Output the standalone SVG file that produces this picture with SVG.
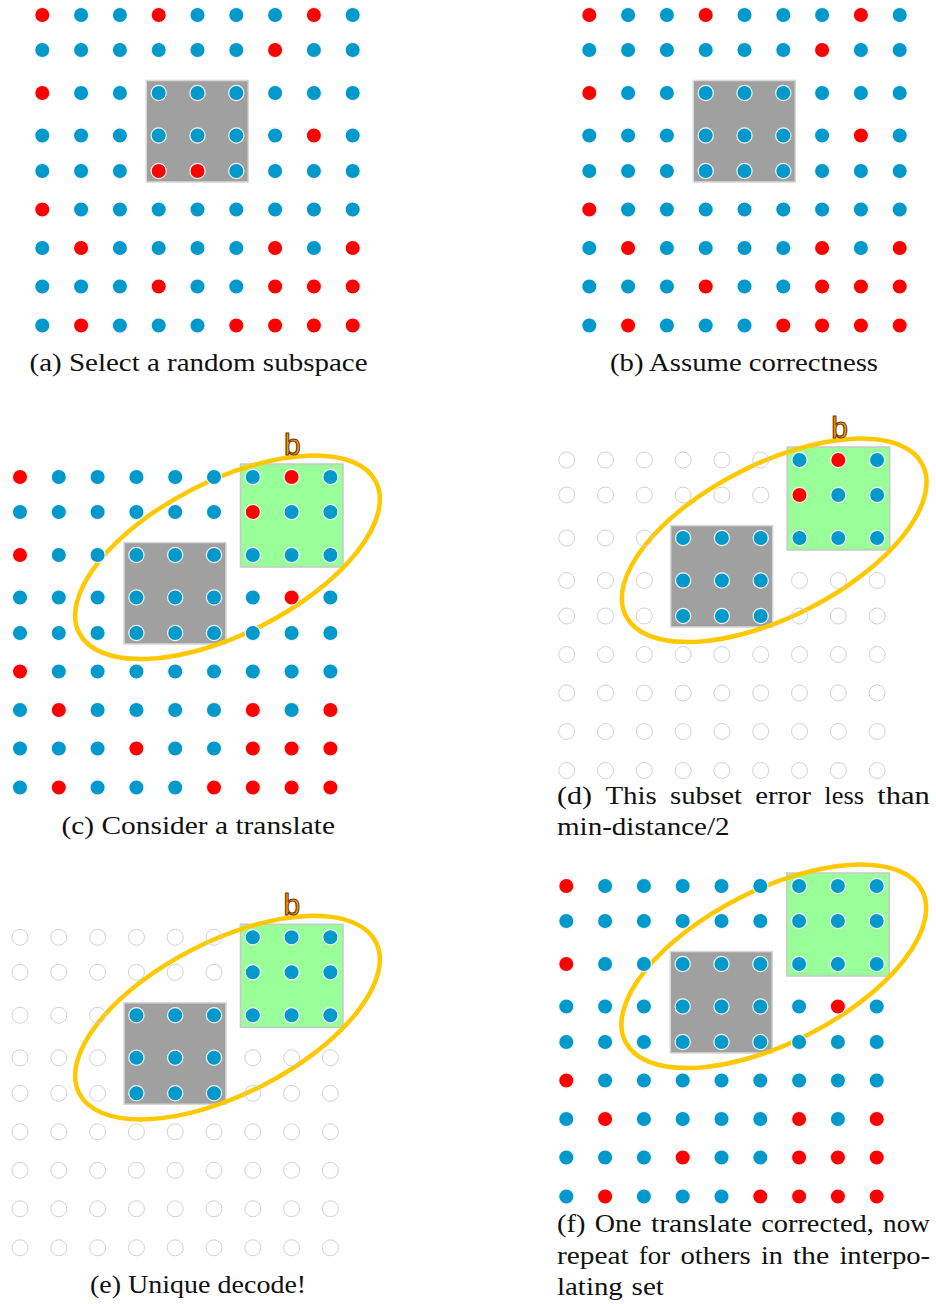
<svg xmlns="http://www.w3.org/2000/svg" xmlns:xlink="http://www.w3.org/1999/xlink" width="936" height="1304" viewBox="0 0 936 1304">
<style>
.gbox{fill:#a0a0a0;stroke:#d8d8d8;stroke-width:1.5}
.grn{fill:#99ff99;stroke:#c8c8c8;stroke-width:1.5}
.ell{fill:none;stroke:#ffc800;stroke-width:4.5}
.lbl{font-family:"Liberation Sans",Arial,sans-serif;font-size:30px;fill:#ff9900;stroke:#6b3a00;stroke-width:1.1}
.cap{font-family:"Liberation Serif","Times New Roman",serif;font-size:25px;fill:#111}
</style>
<defs>
<circle id="R" r="7.6" fill="#ff0000" stroke="#f4f4f4" stroke-width="1.2"/>
<circle id="B" r="7.6" fill="#0099cc" stroke="#f4f4f4" stroke-width="1.2"/>
<circle id="O" r="8" fill="none" stroke="#d2d2d2" stroke-width="1"/>
</defs>

<g id="panel-a">
<g transform="translate(42.3,15)">
<rect class="gbox" x="104" y="65.5" width="102" height="101.5"/>
<g id="dots-a">
<g><use href="#R"/><use href="#B" x="38.8"/><use href="#B" x="77.6"/><use href="#R" x="116.4"/><use href="#B" x="155.2"/><use href="#B" x="194"/><use href="#B" x="232.8"/><use href="#R" x="271.6"/><use href="#B" x="310.4"/></g>
<g transform="translate(0,35)"><use href="#B"/><use href="#B" x="38.8"/><use href="#B" x="77.6"/><use href="#B" x="116.4"/><use href="#B" x="155.2"/><use href="#B" x="194"/><use href="#R" x="232.8"/><use href="#B" x="271.6"/><use href="#B" x="310.4"/></g>
<g transform="translate(0,78)"><use href="#R"/><use href="#B" x="38.8"/><use href="#B" x="77.6"/><use href="#B" x="116.4"/><use href="#B" x="155.2"/><use href="#B" x="194"/><use href="#B" x="232.8"/><use href="#B" x="271.6"/><use href="#B" x="310.4"/></g>
<g transform="translate(0,120.5)"><use href="#B"/><use href="#B" x="38.8"/><use href="#B" x="77.6"/><use href="#B" x="116.4"/><use href="#B" x="155.2"/><use href="#B" x="194"/><use href="#B" x="232.8"/><use href="#R" x="271.6"/><use href="#B" x="310.4"/></g>
<g transform="translate(0,156)"><use href="#B"/><use href="#B" x="38.8"/><use href="#B" x="77.6"/><use href="#R" x="116.4"/><use href="#R" x="155.2"/><use href="#B" x="194"/><use href="#B" x="232.8"/><use href="#B" x="271.6"/><use href="#B" x="310.4"/></g>
<g transform="translate(0,194.5)"><use href="#R"/><use href="#B" x="38.8"/><use href="#B" x="77.6"/><use href="#B" x="116.4"/><use href="#B" x="155.2"/><use href="#B" x="194"/><use href="#B" x="232.8"/><use href="#B" x="271.6"/><use href="#B" x="310.4"/></g>
<g transform="translate(0,233)"><use href="#B"/><use href="#R" x="38.8"/><use href="#B" x="77.6"/><use href="#B" x="116.4"/><use href="#B" x="155.2"/><use href="#B" x="194"/><use href="#R" x="232.8"/><use href="#B" x="271.6"/><use href="#R" x="310.4"/></g>
<g transform="translate(0,271.5)"><use href="#B"/><use href="#B" x="38.8"/><use href="#B" x="77.6"/><use href="#R" x="116.4"/><use href="#B" x="155.2"/><use href="#B" x="194"/><use href="#R" x="232.8"/><use href="#R" x="271.6"/><use href="#R" x="310.4"/></g>
<g transform="translate(0,310.5)"><use href="#B"/><use href="#R" x="38.8"/><use href="#B" x="77.6"/><use href="#B" x="116.4"/><use href="#B" x="155.2"/><use href="#R" x="194"/><use href="#R" x="232.8"/><use href="#R" x="271.6"/><use href="#R" x="310.4"/></g>
</g>
</g>
<text class="cap" x="29.5" y="371" textLength="338" lengthAdjust="spacingAndGlyphs">(a) Select a random subspace</text>
</g>

<g id="panel-b">
<g transform="translate(589.3,15)">
<rect class="gbox" x="104" y="65.5" width="102" height="101.5"/>
<g id="dots-b">
<g><use href="#R"/><use href="#B" x="38.8"/><use href="#B" x="77.6"/><use href="#R" x="116.4"/><use href="#B" x="155.2"/><use href="#B" x="194"/><use href="#B" x="232.8"/><use href="#R" x="271.6"/><use href="#B" x="310.4"/></g>
<g transform="translate(0,35)"><use href="#B"/><use href="#B" x="38.8"/><use href="#B" x="77.6"/><use href="#B" x="116.4"/><use href="#B" x="155.2"/><use href="#B" x="194"/><use href="#R" x="232.8"/><use href="#B" x="271.6"/><use href="#B" x="310.4"/></g>
<g transform="translate(0,78)"><use href="#R"/><use href="#B" x="38.8"/><use href="#B" x="77.6"/><use href="#B" x="116.4"/><use href="#B" x="155.2"/><use href="#B" x="194"/><use href="#B" x="232.8"/><use href="#B" x="271.6"/><use href="#B" x="310.4"/></g>
<g transform="translate(0,120.5)"><use href="#B"/><use href="#B" x="38.8"/><use href="#B" x="77.6"/><use href="#B" x="116.4"/><use href="#B" x="155.2"/><use href="#B" x="194"/><use href="#B" x="232.8"/><use href="#R" x="271.6"/><use href="#B" x="310.4"/></g>
<g transform="translate(0,156)"><use href="#B"/><use href="#B" x="38.8"/><use href="#B" x="77.6"/><use href="#B" x="116.4"/><use href="#B" x="155.2"/><use href="#B" x="194"/><use href="#B" x="232.8"/><use href="#B" x="271.6"/><use href="#B" x="310.4"/></g>
<g transform="translate(0,194.5)"><use href="#R"/><use href="#B" x="38.8"/><use href="#B" x="77.6"/><use href="#B" x="116.4"/><use href="#B" x="155.2"/><use href="#B" x="194"/><use href="#B" x="232.8"/><use href="#B" x="271.6"/><use href="#B" x="310.4"/></g>
<g transform="translate(0,233)"><use href="#B"/><use href="#R" x="38.8"/><use href="#B" x="77.6"/><use href="#B" x="116.4"/><use href="#B" x="155.2"/><use href="#B" x="194"/><use href="#R" x="232.8"/><use href="#B" x="271.6"/><use href="#R" x="310.4"/></g>
<g transform="translate(0,271.5)"><use href="#B"/><use href="#B" x="38.8"/><use href="#B" x="77.6"/><use href="#R" x="116.4"/><use href="#B" x="155.2"/><use href="#B" x="194"/><use href="#R" x="232.8"/><use href="#R" x="271.6"/><use href="#R" x="310.4"/></g>
<g transform="translate(0,310.5)"><use href="#B"/><use href="#R" x="38.8"/><use href="#B" x="77.6"/><use href="#B" x="116.4"/><use href="#B" x="155.2"/><use href="#R" x="194"/><use href="#R" x="232.8"/><use href="#R" x="271.6"/><use href="#R" x="310.4"/></g>
</g>
</g>
<text class="cap" x="610" y="371" textLength="268" lengthAdjust="spacingAndGlyphs">(b) Assume correctness</text>
</g>

<g id="panel-c">
<g transform="translate(20,477)">
<rect class="gbox" x="104" y="65.5" width="102" height="101.5"/>
<rect class="grn" x="220.5" y="-13" width="102.5" height="103"/>
<ellipse class="ell" rx="166.5" ry="76.5" transform="translate(207.5,80.3) rotate(-27)"/>
<text class="lbl" x="264" y="-22">b</text>
<g id="dots-c">
<g><use href="#R"/><use href="#B" x="38.8"/><use href="#B" x="77.6"/><use href="#B" x="116.4"/><use href="#B" x="155.2"/><use href="#B" x="194"/><use href="#B" x="232.8"/><use href="#R" x="271.6"/><use href="#B" x="310.4"/></g>
<g transform="translate(0,35)"><use href="#B"/><use href="#B" x="38.8"/><use href="#B" x="77.6"/><use href="#B" x="116.4"/><use href="#B" x="155.2"/><use href="#B" x="194"/><use href="#R" x="232.8"/><use href="#B" x="271.6"/><use href="#B" x="310.4"/></g>
<g transform="translate(0,78)"><use href="#R"/><use href="#B" x="38.8"/><use href="#B" x="77.6"/><use href="#B" x="116.4"/><use href="#B" x="155.2"/><use href="#B" x="194"/><use href="#B" x="232.8"/><use href="#B" x="271.6"/><use href="#B" x="310.4"/></g>
<g transform="translate(0,120.5)"><use href="#B"/><use href="#B" x="38.8"/><use href="#B" x="77.6"/><use href="#B" x="116.4"/><use href="#B" x="155.2"/><use href="#B" x="194"/><use href="#B" x="232.8"/><use href="#R" x="271.6"/><use href="#B" x="310.4"/></g>
<g transform="translate(0,156)"><use href="#B"/><use href="#B" x="38.8"/><use href="#B" x="77.6"/><use href="#B" x="116.4"/><use href="#B" x="155.2"/><use href="#B" x="194"/><use href="#B" x="232.8"/><use href="#B" x="271.6"/><use href="#B" x="310.4"/></g>
<g transform="translate(0,194.5)"><use href="#R"/><use href="#B" x="38.8"/><use href="#B" x="77.6"/><use href="#B" x="116.4"/><use href="#B" x="155.2"/><use href="#B" x="194"/><use href="#B" x="232.8"/><use href="#B" x="271.6"/><use href="#B" x="310.4"/></g>
<g transform="translate(0,233)"><use href="#B"/><use href="#R" x="38.8"/><use href="#B" x="77.6"/><use href="#B" x="116.4"/><use href="#B" x="155.2"/><use href="#B" x="194"/><use href="#R" x="232.8"/><use href="#B" x="271.6"/><use href="#R" x="310.4"/></g>
<g transform="translate(0,271.5)"><use href="#B"/><use href="#B" x="38.8"/><use href="#B" x="77.6"/><use href="#R" x="116.4"/><use href="#B" x="155.2"/><use href="#B" x="194"/><use href="#R" x="232.8"/><use href="#R" x="271.6"/><use href="#R" x="310.4"/></g>
<g transform="translate(0,310.5)"><use href="#B"/><use href="#R" x="38.8"/><use href="#B" x="77.6"/><use href="#B" x="116.4"/><use href="#B" x="155.2"/><use href="#R" x="194"/><use href="#R" x="232.8"/><use href="#R" x="271.6"/><use href="#R" x="310.4"/></g>
</g>
</g>
<text class="cap" x="61.5" y="833.5" textLength="273.5" lengthAdjust="spacingAndGlyphs">(c) Consider a translate</text>
</g>

<g id="panel-d">
<g transform="translate(566.7,460)">
<rect class="gbox" x="104" y="65.5" width="102" height="101.5"/>
<rect class="grn" x="220.5" y="-13" width="102.5" height="103"/>
<ellipse class="ell" rx="166.5" ry="76.5" transform="translate(207.5,80.3) rotate(-27)"/>
<text class="lbl" x="264.5" y="-22.5">b</text>
<g id="dots-d">
<g><use href="#O"/><use href="#O" x="38.8"/><use href="#O" x="77.6"/><use href="#O" x="116.4"/><use href="#O" x="155.2"/><use href="#O" x="194"/><use href="#B" x="232.8"/><use href="#R" x="271.6"/><use href="#B" x="310.4"/></g>
<g transform="translate(0,35)"><use href="#O"/><use href="#O" x="38.8"/><use href="#O" x="77.6"/><use href="#O" x="116.4"/><use href="#O" x="155.2"/><use href="#O" x="194"/><use href="#R" x="232.8"/><use href="#B" x="271.6"/><use href="#B" x="310.4"/></g>
<g transform="translate(0,78)"><use href="#O"/><use href="#O" x="38.8"/><use href="#O" x="77.6"/><use href="#B" x="116.4"/><use href="#B" x="155.2"/><use href="#B" x="194"/><use href="#B" x="232.8"/><use href="#B" x="271.6"/><use href="#B" x="310.4"/></g>
<g transform="translate(0,120.5)"><use href="#O"/><use href="#O" x="38.8"/><use href="#O" x="77.6"/><use href="#B" x="116.4"/><use href="#B" x="155.2"/><use href="#B" x="194"/><use href="#O" x="232.8"/><use href="#O" x="271.6"/><use href="#O" x="310.4"/></g>
<g transform="translate(0,156)"><use href="#O"/><use href="#O" x="38.8"/><use href="#O" x="77.6"/><use href="#B" x="116.4"/><use href="#B" x="155.2"/><use href="#B" x="194"/><use href="#O" x="232.8"/><use href="#O" x="271.6"/><use href="#O" x="310.4"/></g>
<g transform="translate(0,194.5)"><use href="#O"/><use href="#O" x="38.8"/><use href="#O" x="77.6"/><use href="#O" x="116.4"/><use href="#O" x="155.2"/><use href="#O" x="194"/><use href="#O" x="232.8"/><use href="#O" x="271.6"/><use href="#O" x="310.4"/></g>
<g transform="translate(0,233)"><use href="#O"/><use href="#O" x="38.8"/><use href="#O" x="77.6"/><use href="#O" x="116.4"/><use href="#O" x="155.2"/><use href="#O" x="194"/><use href="#O" x="232.8"/><use href="#O" x="271.6"/><use href="#O" x="310.4"/></g>
<g transform="translate(0,271.5)"><use href="#O"/><use href="#O" x="38.8"/><use href="#O" x="77.6"/><use href="#O" x="116.4"/><use href="#O" x="155.2"/><use href="#O" x="194"/><use href="#O" x="232.8"/><use href="#O" x="271.6"/><use href="#O" x="310.4"/></g>
<g transform="translate(0,310.5)"><use href="#O"/><use href="#O" x="38.8"/><use href="#O" x="77.6"/><use href="#O" x="116.4"/><use href="#O" x="155.2"/><use href="#O" x="194"/><use href="#O" x="232.8"/><use href="#O" x="271.6"/><use href="#O" x="310.4"/></g>
</g>
</g>
<text class="cap" y="803.5"><tspan x="557" textLength="35" lengthAdjust="spacingAndGlyphs">(d)</tspan> <tspan x="605.4" textLength="51.3" lengthAdjust="spacingAndGlyphs">This</tspan> <tspan x="670" textLength="71.9" lengthAdjust="spacingAndGlyphs">subset</tspan> <tspan x="755.2" textLength="55.8" lengthAdjust="spacingAndGlyphs">error</tspan> <tspan x="824.3" textLength="39.7" lengthAdjust="spacingAndGlyphs">less</tspan> <tspan x="877.3" textLength="52.6" lengthAdjust="spacingAndGlyphs">than</tspan></text>
<text class="cap" x="557" y="835" textLength="172.6" lengthAdjust="spacingAndGlyphs">min-distance/2</text>
</g>

<g id="panel-e">
<g transform="translate(20,937.3)">
<rect class="gbox" x="104" y="65.5" width="102" height="101.5"/>
<rect class="grn" x="220.5" y="-13" width="102.5" height="103"/>
<ellipse class="ell" rx="166.5" ry="76.5" transform="translate(207.5,80.3) rotate(-27)"/>
<text class="lbl" x="263.5" y="-22.3">b</text>
<g id="dots-e">
<g><use href="#O"/><use href="#O" x="38.8"/><use href="#O" x="77.6"/><use href="#O" x="116.4"/><use href="#O" x="155.2"/><use href="#O" x="194"/><use href="#B" x="232.8"/><use href="#B" x="271.6"/><use href="#B" x="310.4"/></g>
<g transform="translate(0,35)"><use href="#O"/><use href="#O" x="38.8"/><use href="#O" x="77.6"/><use href="#O" x="116.4"/><use href="#O" x="155.2"/><use href="#O" x="194"/><use href="#B" x="232.8"/><use href="#B" x="271.6"/><use href="#B" x="310.4"/></g>
<g transform="translate(0,78)"><use href="#O"/><use href="#O" x="38.8"/><use href="#O" x="77.6"/><use href="#B" x="116.4"/><use href="#B" x="155.2"/><use href="#B" x="194"/><use href="#B" x="232.8"/><use href="#B" x="271.6"/><use href="#B" x="310.4"/></g>
<g transform="translate(0,120.5)"><use href="#O"/><use href="#O" x="38.8"/><use href="#O" x="77.6"/><use href="#B" x="116.4"/><use href="#B" x="155.2"/><use href="#B" x="194"/><use href="#O" x="232.8"/><use href="#O" x="271.6"/><use href="#O" x="310.4"/></g>
<g transform="translate(0,156)"><use href="#O"/><use href="#O" x="38.8"/><use href="#O" x="77.6"/><use href="#B" x="116.4"/><use href="#B" x="155.2"/><use href="#B" x="194"/><use href="#O" x="232.8"/><use href="#O" x="271.6"/><use href="#O" x="310.4"/></g>
<g transform="translate(0,194.5)"><use href="#O"/><use href="#O" x="38.8"/><use href="#O" x="77.6"/><use href="#O" x="116.4"/><use href="#O" x="155.2"/><use href="#O" x="194"/><use href="#O" x="232.8"/><use href="#O" x="271.6"/><use href="#O" x="310.4"/></g>
<g transform="translate(0,233)"><use href="#O"/><use href="#O" x="38.8"/><use href="#O" x="77.6"/><use href="#O" x="116.4"/><use href="#O" x="155.2"/><use href="#O" x="194"/><use href="#O" x="232.8"/><use href="#O" x="271.6"/><use href="#O" x="310.4"/></g>
<g transform="translate(0,271.5)"><use href="#O"/><use href="#O" x="38.8"/><use href="#O" x="77.6"/><use href="#O" x="116.4"/><use href="#O" x="155.2"/><use href="#O" x="194"/><use href="#O" x="232.8"/><use href="#O" x="271.6"/><use href="#O" x="310.4"/></g>
<g transform="translate(0,310.5)"><use href="#O"/><use href="#O" x="38.8"/><use href="#O" x="77.6"/><use href="#O" x="116.4"/><use href="#O" x="155.2"/><use href="#O" x="194"/><use href="#O" x="232.8"/><use href="#O" x="271.6"/><use href="#O" x="310.4"/></g>
</g>
</g>
<text class="cap" x="90" y="1292.7" textLength="216.2" lengthAdjust="spacingAndGlyphs">(e) Unique decode!</text>
</g>

<g id="panel-f">
<g transform="translate(566.3,886)">
<rect class="gbox" x="104" y="65.5" width="102" height="101.5"/>
<rect class="grn" x="220.5" y="-13" width="102.5" height="103"/>
<ellipse class="ell" rx="166.5" ry="76.5" transform="translate(207.5,80.3) rotate(-27)"/>
<g id="dots-f">
<g><use href="#R"/><use href="#B" x="38.8"/><use href="#B" x="77.6"/><use href="#B" x="116.4"/><use href="#B" x="155.2"/><use href="#B" x="194"/><use href="#B" x="232.8"/><use href="#B" x="271.6"/><use href="#B" x="310.4"/></g>
<g transform="translate(0,35)"><use href="#B"/><use href="#B" x="38.8"/><use href="#B" x="77.6"/><use href="#B" x="116.4"/><use href="#B" x="155.2"/><use href="#B" x="194"/><use href="#B" x="232.8"/><use href="#B" x="271.6"/><use href="#B" x="310.4"/></g>
<g transform="translate(0,78)"><use href="#R"/><use href="#B" x="38.8"/><use href="#B" x="77.6"/><use href="#B" x="116.4"/><use href="#B" x="155.2"/><use href="#B" x="194"/><use href="#B" x="232.8"/><use href="#B" x="271.6"/><use href="#B" x="310.4"/></g>
<g transform="translate(0,120.5)"><use href="#B"/><use href="#B" x="38.8"/><use href="#B" x="77.6"/><use href="#B" x="116.4"/><use href="#B" x="155.2"/><use href="#B" x="194"/><use href="#B" x="232.8"/><use href="#R" x="271.6"/><use href="#B" x="310.4"/></g>
<g transform="translate(0,156)"><use href="#B"/><use href="#B" x="38.8"/><use href="#B" x="77.6"/><use href="#B" x="116.4"/><use href="#B" x="155.2"/><use href="#B" x="194"/><use href="#B" x="232.8"/><use href="#B" x="271.6"/><use href="#B" x="310.4"/></g>
<g transform="translate(0,194.5)"><use href="#R"/><use href="#B" x="38.8"/><use href="#B" x="77.6"/><use href="#B" x="116.4"/><use href="#B" x="155.2"/><use href="#B" x="194"/><use href="#B" x="232.8"/><use href="#B" x="271.6"/><use href="#B" x="310.4"/></g>
<g transform="translate(0,233)"><use href="#B"/><use href="#R" x="38.8"/><use href="#B" x="77.6"/><use href="#B" x="116.4"/><use href="#B" x="155.2"/><use href="#B" x="194"/><use href="#R" x="232.8"/><use href="#B" x="271.6"/><use href="#R" x="310.4"/></g>
<g transform="translate(0,271.5)"><use href="#B"/><use href="#B" x="38.8"/><use href="#B" x="77.6"/><use href="#R" x="116.4"/><use href="#B" x="155.2"/><use href="#B" x="194"/><use href="#R" x="232.8"/><use href="#R" x="271.6"/><use href="#R" x="310.4"/></g>
<g transform="translate(0,310.5)"><use href="#B"/><use href="#R" x="38.8"/><use href="#B" x="77.6"/><use href="#B" x="116.4"/><use href="#B" x="155.2"/><use href="#R" x="194"/><use href="#R" x="232.8"/><use href="#R" x="271.6"/><use href="#R" x="310.4"/></g>
</g>
</g>
<text class="cap" y="1232"><tspan x="557" textLength="28.5" lengthAdjust="spacingAndGlyphs">(f)</tspan> <tspan x="594.8" textLength="46.8" lengthAdjust="spacingAndGlyphs">One</tspan> <tspan x="650.9" textLength="101" lengthAdjust="spacingAndGlyphs">translate</tspan> <tspan x="761.2" textLength="112.6" lengthAdjust="spacingAndGlyphs">corrected,</tspan> <tspan x="883.1" textLength="46.8" lengthAdjust="spacingAndGlyphs">now</tspan></text>
<text class="cap" y="1263.5"><tspan x="557" textLength="71.7" lengthAdjust="spacingAndGlyphs">repeat</tspan> <tspan x="638.8" textLength="31.5" lengthAdjust="spacingAndGlyphs">for</tspan> <tspan x="680.4" textLength="70.4" lengthAdjust="spacingAndGlyphs">others</tspan> <tspan x="760.9" textLength="21.9" lengthAdjust="spacingAndGlyphs">in</tspan> <tspan x="792.8" textLength="36.5" lengthAdjust="spacingAndGlyphs">the</tspan> <tspan x="839.4" textLength="90.7" lengthAdjust="spacingAndGlyphs">interpo-</tspan></text>
<text class="cap" y="1295"><tspan x="557" textLength="65.8" lengthAdjust="spacingAndGlyphs">lating</tspan> <tspan x="631.6" textLength="32.3" lengthAdjust="spacingAndGlyphs">set</tspan></text>
</g>

<g id="connectors"/>
</svg>
